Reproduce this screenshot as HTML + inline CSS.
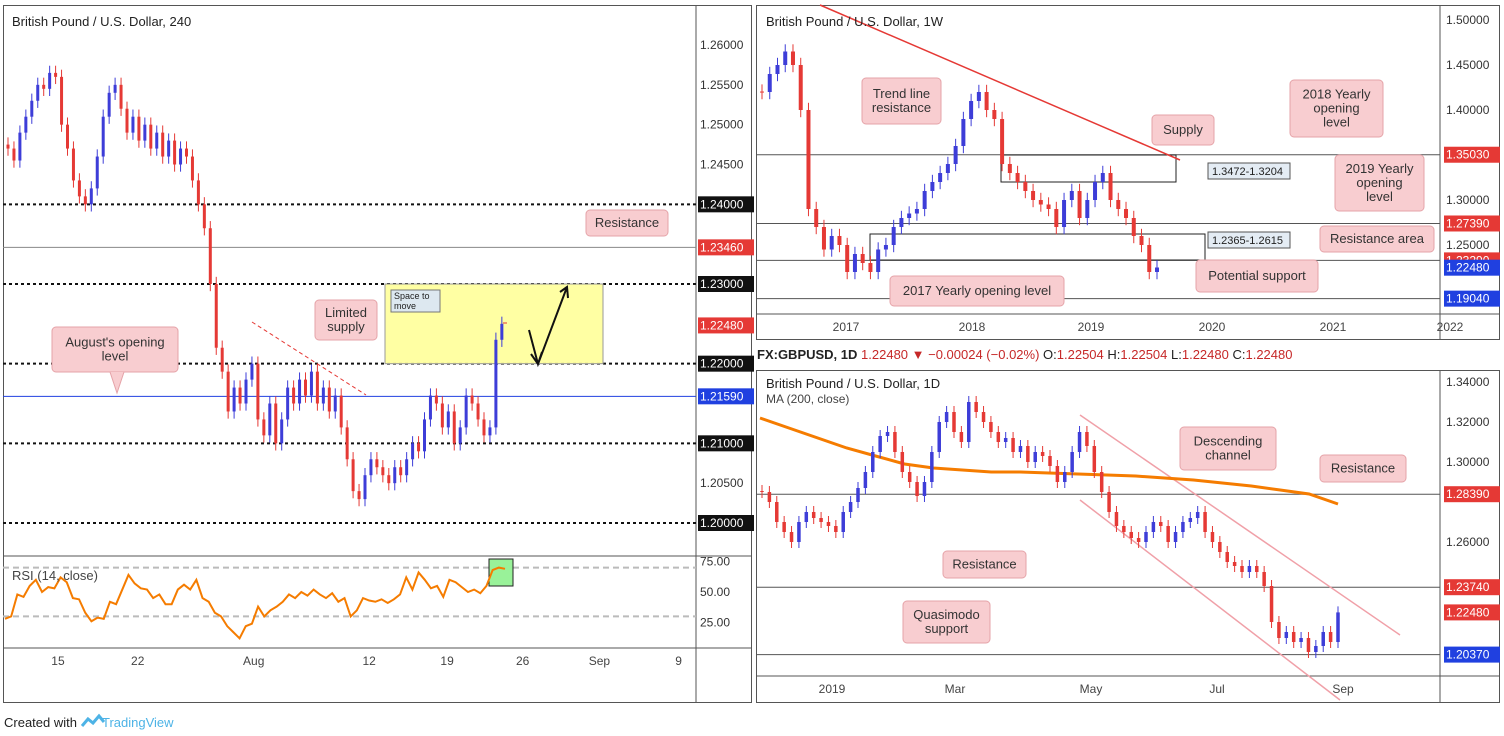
<!DOCTYPE html>
<html><head><meta charset="utf-8"><style>
html,body{margin:0;padding:0;background:#fff;}
svg{display:block;font-family:"Liberation Sans",sans-serif;}
</style></head><body>
<svg id="c" width="1504" height="736" viewBox="0 0 1504 736" xmlns="http://www.w3.org/2000/svg">
<rect x="0" y="0" width="1504" height="736" fill="#fff"/>
<g id="L"></g>
<g id="W"></g>
<g id="D"></g>
<text x="4" y="727" font-size="13" fill="#222">Created with</text>
<path d="M82 726 l6 -7 l5 4 l6 -7 l5 6" stroke="#4db3e6" stroke-width="3" fill="none"/>
<text x="102" y="727" font-size="13" fill="#4db3e6">TradingView</text>
</svg>
<script>
// ---------- DATA ----------
const h4Closes=[1.2470,1.2455,1.2490,1.2510,1.2530,1.2550,1.2545,1.2565,1.2560,1.2500,1.2470,1.2430,1.2410,1.2400,1.2420,1.2460,1.2510,1.2540,1.2550,1.2520,1.2490,1.2510,1.2480,1.2500,1.2470,1.2490,1.2460,1.2480,1.2450,1.2470,1.2460,1.2430,1.2400,1.2370,1.2300,1.2220,1.2190,1.2140,1.2170,1.2150,1.2180,1.2200,1.2130,1.2110,1.2150,1.2100,1.2130,1.2170,1.2150,1.2180,1.2160,1.2190,1.2150,1.2170,1.2140,1.2160,1.2120,1.2080,1.2040,1.2030,1.2060,1.2080,1.2070,1.2060,1.2050,1.2070,1.2060,1.2080,1.2100,1.2090,1.2130,1.2160,1.2150,1.2120,1.2140,1.2100,1.2120,1.2160,1.2150,1.2130,1.2110,1.2120,1.2230,1.2250];
const rsiValues=[28,30,48,46,55,60,50,54,53,62,58,45,44,33,26,29,28,42,40,52,64,57,53,52,45,48,40,40,52,56,52,60,45,42,33,30,22,17,12,22,24,38,30,35,38,42,48,45,50,47,52,48,45,49,42,45,30,35,45,43,42,44,41,44,48,62,52,66,60,53,55,46,60,58,54,50,52,49,55,68,70,69];
const h4Ticks=[1.2000,1.2050,1.2100,1.2150,1.2200,1.2250,1.2300,1.2350,1.2400,1.2450,1.2500,1.2550,1.2600];
const h4TimeLabels=["15","22","Aug","12","19","26","Sep","9"];
const h4TimeIdx=[8.4,21.8,41.3,60.7,73.8,86.5,99.4,112.7];

const wCloses=[1.4200,1.4400,1.4500,1.4650,1.4500,1.4000,1.2900,1.2700,1.2450,1.2600,1.2500,1.2200,1.2400,1.2300,1.2200,1.2450,1.2500,1.2700,1.2800,1.2850,1.2900,1.3100,1.3200,1.3300,1.3400,1.3600,1.3900,1.4100,1.4200,1.4000,1.3900,1.3400,1.3300,1.3200,1.3100,1.3000,1.2950,1.2900,1.2700,1.3000,1.3100,1.2800,1.3000,1.3200,1.3300,1.3000,1.2900,1.2800,1.2600,1.2500,1.2200,1.2250];
const wTicks=[1.2500,1.3000,1.4000,1.4500,1.5000];
const wTimeLabels=["2017","2018","2019","2020","2021","2022"];
const wTimeX=[846,972,1091,1212,1333,1450];

const dCloses=[1.2850,1.2800,1.2700,1.2650,1.2600,1.2700,1.2750,1.2720,1.2700,1.2680,1.2650,1.2750,1.2800,1.2870,1.2950,1.3050,1.3130,1.3150,1.3050,1.2950,1.2900,1.2830,1.2900,1.3050,1.3200,1.3250,1.3150,1.3100,1.3300,1.3250,1.3200,1.3150,1.3100,1.3120,1.3050,1.3080,1.3000,1.3050,1.3030,1.2980,1.2900,1.2950,1.3050,1.3150,1.3080,1.2950,1.2850,1.2750,1.2680,1.2650,1.2620,1.2600,1.2650,1.2700,1.2680,1.2600,1.2650,1.2700,1.2720,1.2750,1.2650,1.2600,1.2550,1.2500,1.2480,1.2450,1.2480,1.2450,1.2380,1.2200,1.2120,1.2150,1.2100,1.2120,1.2050,1.2080,1.2150,1.2100,1.2248];
const dMA=[1.3220,1.3170,1.3120,1.3070,1.3030,1.2990,1.2970,1.2960,1.2950,1.2950,1.2945,1.2940,1.2935,1.2930,1.2920,1.2910,1.2895,1.2880,1.2860,1.2840,1.2790];
const dTicks=[1.2000,1.2200,1.2600,1.3000,1.3200,1.3400];
const dTimeLabels=["2019","Mar","May","Jul","Sep"];
const dTimeX=[832,955,1091,1217,1343];

// ---------- HELPERS ----------
const NS="http://www.w3.org/2000/svg";
function mk(parent,tag,attrs,text){const e=document.createElementNS(NS,tag);for(const k in attrs)e.setAttribute(k,attrs[k]);if(text!==undefined)e.textContent=text;parent.appendChild(e);return e;}
const UP="#3d3dd8",DN="#e53935";
function candles(g,closes,xf,yf,w,wick,name){
  for(let i=0;i<closes.length;i++){
    const o=i?closes[i-1]:closes[i]+0.0005,c=closes[i];
    const col=c>=o?UP:DN;const x=xf(i);
    const hi=Math.max(o,c)+wick,lo=Math.min(o,c)-wick;
    const ln=mk(g,'line',{x1:x,x2:x,y1:yf(hi),y2:yf(lo),stroke:col,'stroke-width':1});
    
    
    const t=Math.min(yf(o),yf(c)),h=Math.max(1,Math.abs(yf(o)-yf(c)));
    const r=mk(g,'rect',{x:x-w/2,y:t,width:w,height:h,fill:col});
    
    
  }
}
function axisLabel(g,x,y,txt,bg,name){
  if(bg){const r=mk(g,'rect',{x:x-2,y:y-8,width:56,height:16,fill:bg});}
  const t=mk(g,'text',{x:x,y:y+4,'font-size':12,fill:bg?'#fff':'#333'},txt);
  
  
}
function ticks(g,x,list,yf,taken,name){
  list.forEach(p=>{const yy=yf(p);if(taken.some(t=>Math.abs(t-yy)<14))return;axisLabel(g,x,yy,p.toFixed(5),null,name);});
}
function box(g,x,y,w,h,lines,name,fs){
  const r=mk(g,'rect',{x:x,y:y,width:w,height:h,rx:4,fill:'#f8cdd0',stroke:'#e5a3a8'});
  
  
  lines.forEach((s,i)=>{const t=mk(g,'text',{x:x+w/2,y:y+h/2+(i-(lines.length-1)/2)*14+4,'font-size':fs||13,'text-anchor':'middle',fill:'#333'},s);});
}
function hline(g,x1,x2,y,col,dash,w,name){const l=mk(g,'line',{x1:x1,x2:x2,y1:y,y2:y,stroke:col,'stroke-width':w||1});if(dash)l.setAttribute('stroke-dasharray',dash);}

// ---------- LEFT H4 ----------
(function(){
const g=document.getElementById('L');
mk(g,'rect',{x:3.5,y:5.5,width:748,height:697,fill:'none',stroke:'#555'});
hline(g,3,752,556,'#555',null,1,'rsi-separator');
hline(g,3,752,648,'#555',null,1,'time-axis-line');
mk(g,'line',{x1:696,x2:696,y1:5,y2:703,stroke:'#555'});
const y=p=>523-(p-1.2)/0.06*478;
const x=i=>8+i*5.95;
const taken=[];
[1.24,1.23,1.22,1.21,1.20].forEach(p=>{hline(g,3,696,y(p),'#111','3 3',2,'round-number-level');axisLabel(g,700,y(p),p.toFixed(5),'#111','level-label');taken.push(y(p));});
hline(g,3,696,y(1.2346),'#888',null,1,'resistance-line');
axisLabel(g,700,y(1.2346),'1.23460','#e53935','resistance-label');taken.push(y(1.2346));
hline(g,3,696,y(1.2159),'#2040e0',null,1,'august-open-line');
axisLabel(g,700,y(1.2159),'1.21590','#2040e0','august-open-label');taken.push(y(1.2159));
axisLabel(g,700,y(1.2248),'1.22480','#e53935','last-price-label');taken.push(y(1.2248));
ticks(g,700,h4Ticks,y,taken,'price-tick');
const yz=mk(g,'rect',{x:385,y:y(1.23),width:218,height:y(1.22)-y(1.23),fill:'#ffff99',stroke:'#999','fill-opacity':0.9});

const sm=mk(g,'rect',{x:391,y:290,width:49,height:22,fill:'#dde8f0',stroke:'#777'});

mk(g,'text',{x:394,y:299,'font-size':9,fill:'#222'},'Space to');
mk(g,'text',{x:394,y:309,'font-size':9,fill:'#222'},'move');
const td=mk(g,'line',{x1:252,y1:322,x2:366,y2:395,stroke:'#e53935','stroke-dasharray':'4 3'});

candles(g,h4Closes,x,y,3,0.0009,'h4-candle');
mk(g,'line',{x1:503,y1:323,x2:507,y2:323,stroke:'#e53935'});
const ar=mk(g,'path',{d:'M529 330 L538 364 L567 287 M531 354 L538 364 L542 352 M560 292 L567 287 L568 298',stroke:'#111','stroke-width':2,fill:'none'});

box(g,586,210,82,26,['Resistance'],'resistance-callout');
box(g,315,300,62,40,['Limited','supply'],'limited-supply-callout');
box(g,52,327,126,45,["August's opening","level"],'august-open-callout');
mk(g,'path',{d:'M110 372 L117 393 L124 372',fill:'#f8cdd0',stroke:'#e5a3a8'});
mk(g,'text',{x:12,y:26,'font-size':13,fill:'#222'},'British Pound / U.S. Dollar, 240');
const ry=v=>592-(v-50)*1.22;
hline(g,3,696,ry(70),'#bbb','6 4',2,'rsi-70-line');
hline(g,3,696,ry(30),'#bbb','6 4',2,'rsi-30-line');
[75,50,25].forEach(v=>axisLabel(g,700,ry(v),v.toFixed(2),null,'rsi-tick'));
const gb=mk(g,'rect',{x:489,y:559,width:24,height:27,fill:'#99f299',stroke:'#222'});

const rx=i=>5+i*(500/(rsiValues.length-1));
const rp=mk(g,'polyline',{points:rsiValues.map((v,i)=>rx(i)+','+ry(v)).join(' '),fill:'none',stroke:'#f57c00','stroke-width':2});

mk(g,'text',{x:12,y:580,'font-size':13,fill:'#444'},'RSI (14, close)');
h4TimeLabels.forEach((s,i)=>{const t=mk(g,'text',{x:x(h4TimeIdx[i]),y:665,'font-size':12,'text-anchor':'middle',fill:'#444'},s);});
})();

// ---------- WEEKLY ----------
(function(){
const g=document.getElementById('W');
mk(g,'rect',{x:756.5,y:5.5,width:743,height:334,fill:'none',stroke:'#555'});
mk(g,'line',{x1:1440,x2:1440,y1:5,y2:340,stroke:'#555'});
hline(g,756,1500,314,'#555',null,1,'w-time-axis-line');
const y=p=>20+(1.5-p)*900;
const x=i=>762+i*(395/(wCloses.length-1));
const taken=[];
[[1.3503,'#e53935'],[1.2739,'#e53935'],[1.2329,'#e53935'],[1.1904,'#2040e0']].forEach(([p,c])=>{hline(g,756,1440,y(p),'#555',null,1,'w-level-line');axisLabel(g,1446,y(p),p.toFixed(5),c,'w-level-label');taken.push(y(p));});
axisLabel(g,1446,y(1.2248),'1.22480','#2040e0','w-last-price');taken.push(y(1.2248));
ticks(g,1446,wTicks,y,taken,'w-price-tick');
mk(g,'rect',{x:1001,y:155,width:175,height:27,fill:'none',stroke:'#222'});
mk(g,'rect',{x:870,y:234,width:335,height:26,fill:'none',stroke:'#222'});
mk(g,'line',{x1:820,y1:5,x2:1180,y2:160,stroke:'#e53935','stroke-width':1.5});
candles(g,wCloses,x,y,4,0.008,'w-candle');
[['1.3472-1.3204',1208,163],['1.2365-1.2615',1208,232]].forEach(([s,bx,by])=>{mk(g,'rect',{x:bx,y:by,width:82,height:16,fill:'#e4ecf4',stroke:'#555'});mk(g,'text',{x:bx+4,y:by+12,'font-size':11,fill:'#222'},s);});
box(g,862,78,79,46,['Trend line','resistance'],'trend-line-callout');
box(g,1152,115,62,30,['Supply'],'supply-callout');
box(g,1290,80,93,57,['2018 Yearly','opening','level'],'y2018-callout');
box(g,1335,155,89,56,['2019 Yearly','opening','level'],'y2019-callout');
box(g,1320,226,114,26,['Resistance area'],'resistance-area-callout');
box(g,1196,260,122,32,['Potential support'],'potential-support-callout');
box(g,890,276,174,30,['2017 Yearly opening level'],'y2017-callout');
mk(g,'text',{x:766,y:26,'font-size':13,fill:'#222'},'British Pound / U.S. Dollar, 1W');
wTimeLabels.forEach((s,i)=>{const t=mk(g,'text',{x:wTimeX[i],y:331,'font-size':12,'text-anchor':'middle',fill:'#444'},s);});
})();

// ---------- DAILY ----------
(function(){
const g=document.getElementById('D');
const hd=mk(g,'text',{x:757,y:359,'font-size':13,fill:'#222'});

hd.innerHTML='<tspan font-weight="bold">FX:GBPUSD, 1D</tspan> <tspan fill="#c62828">1.22480 ▼ −0.00024 (−0.02%)</tspan> O:<tspan fill="#c62828">1.22504</tspan> H:<tspan fill="#c62828">1.22504</tspan> L:<tspan fill="#c62828">1.22480</tspan> C:<tspan fill="#c62828">1.22480</tspan>';
mk(g,'rect',{x:756.5,y:370.5,width:743,height:332,fill:'none',stroke:'#555'});
mk(g,'line',{x1:1440,x2:1440,y1:370,y2:703,stroke:'#555'});
hline(g,756,1500,676,'#555',null,1,'d-time-axis-line');
const y=p=>382+(1.34-p)*2000;
const x=i=>762+i*(576/(dCloses.length-1));
const taken=[];
[[1.2839,'#e53935'],[1.2374,'#e53935'],[1.2037,'#2040e0']].forEach(([p,c])=>{hline(g,756,1440,y(p),'#555',null,1,'d-level-line');axisLabel(g,1446,y(p),p.toFixed(5),c,'d-level-label');taken.push(y(p));});
axisLabel(g,1446,y(1.2248),'1.22480','#e53935','d-last-price');taken.push(y(1.2248));
ticks(g,1446,dTicks,y,taken,'d-price-tick');
mk(g,'line',{x1:1080,y1:415,x2:1400,y2:635,stroke:'#f0a0a8','stroke-width':1.5});
mk(g,'line',{x1:1080,y1:500,x2:1340,y2:700,stroke:'#f0a0a8','stroke-width':1.5});
const mx=i=>760+i*(578/(dMA.length-1));
const ma=mk(g,'polyline',{points:dMA.map((v,i)=>mx(i)+','+y(v)).join(' '),fill:'none',stroke:'#f57c00','stroke-width':3});

candles(g,dCloses,x,y,3.5,0.003,'d-candle');
box(g,1180,427,96,43,['Descending','channel'],'descending-channel-callout');
box(g,1320,455,86,27,['Resistance'],'d-resistance-callout');
box(g,943,551,83,27,['Resistance'],'d-resistance2-callout');
box(g,903,601,87,42,['Quasimodo','support'],'quasimodo-callout');
mk(g,'text',{x:766,y:388,'font-size':13,fill:'#222'},'British Pound / U.S. Dollar, 1D');
mk(g,'text',{x:766,y:403,'font-size':12,fill:'#444'},'MA (200, close)');
dTimeLabels.forEach((s,i)=>{const t=mk(g,'text',{x:dTimeX[i],y:693,'font-size':12,'text-anchor':'middle',fill:'#444'},s);});
})();
</script>
</body></html>
